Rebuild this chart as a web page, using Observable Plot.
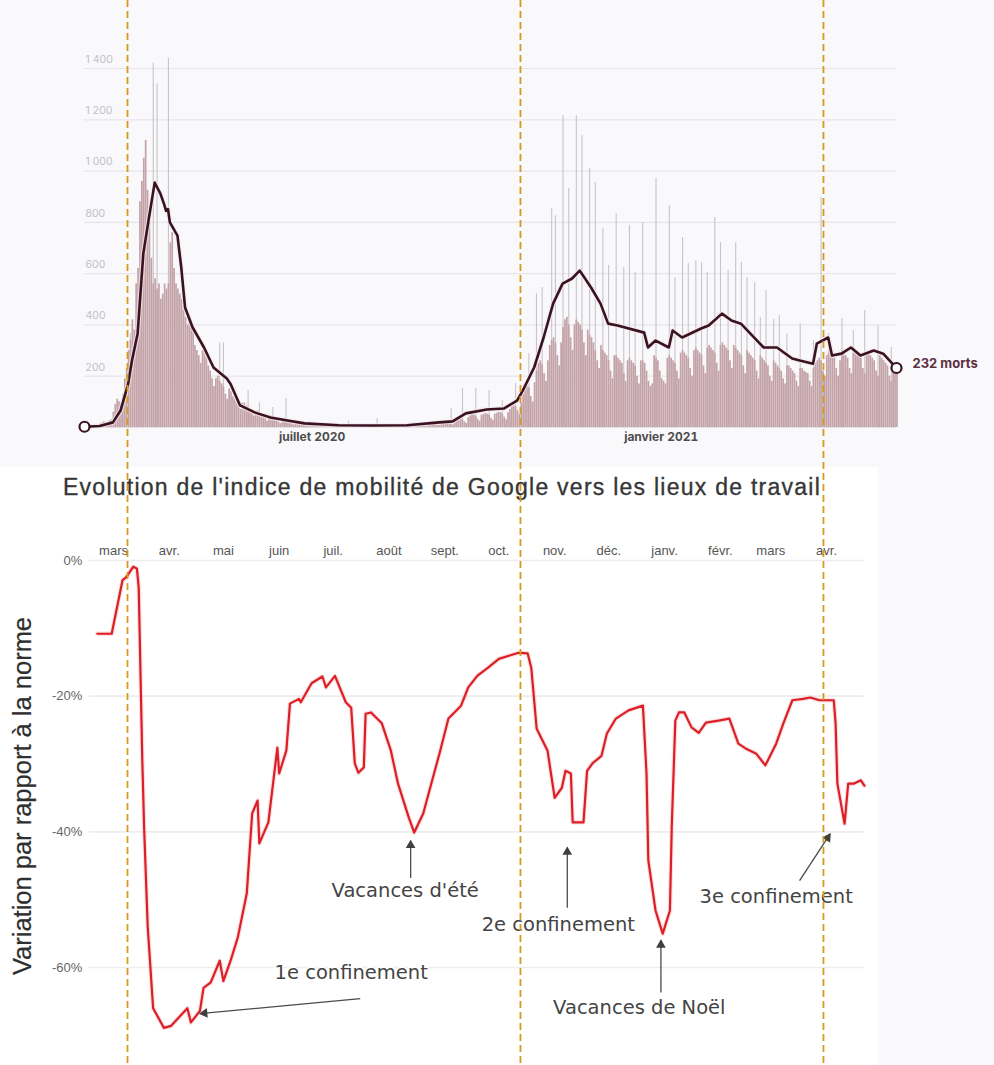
<!DOCTYPE html>
<html><head><meta charset="utf-8">
<script src="https://cdn.jsdelivr.net/npm/d3@7"></script>
<script src="https://cdn.jsdelivr.net/npm/@observablehq/plot@0.6"></script>
<style>
body{margin:0;background:#f8f7fa;}
#wrap{position:relative;width:994px;height:1065px;overflow:hidden;background:#f9f8fa;}
#top{position:absolute;left:0;top:0;}
#bottomBg{position:absolute;left:0;top:467px;width:878px;height:598px;background:#fff;}
#bottom{position:absolute;left:0;top:465px;}
#overlay{position:absolute;left:0;top:0;pointer-events:none;}
#title{position:absolute;left:63px;top:474px;font:23px "Liberation Sans",Arial,sans-serif;letter-spacing:1.25px;color:#363636;-webkit-text-stroke:0.35px #363636;white-space:nowrap;}
#ytitle{position:absolute;left:-177px;top:781px;width:400px;height:30px;line-height:30px;text-align:center;transform:rotate(-90deg);font:25.5px "Liberation Sans",Arial,sans-serif;color:#2f2f2f;-webkit-text-stroke:0.2px #2f2f2f;white-space:nowrap;}
</style></head>
<body>
<div id="wrap">
  <div id="top"></div>
  <div id="bottomBg"></div>
  <div id="bottom"></div>
  <div id="title">Evolution de l'indice de mobilité de Google vers les lieux de travail</div>
  <div id="ytitle">Variation par rapport à la norme</div>
  <div id="overlay"></div>
</div>
<script>
// ---------- DATA: top chart (daily deaths) ----------
const startDate = "2020-03-03";
const hospitalDeaths = [
  2,3,2,3,5,2,4,
  10,14,18,22,16,12,26,
  30,60,90,110,100,95,130,
  190,230,300,340,420,380,560,
  620,880,960,1050,1120,925,800,
  660,560,580,540,560,500,520,
  560,540,560,720,760,620,560,
  540,520,500,460,430,400,420,
  410,380,320,300,280,250,300,
  300,270,240,220,190,160,190,
  200,180,170,160,130,110,150,
  140,120,110,100,85,70,95,
  95,85,80,70,60,45,60,
  65,55,50,45,35,25,45,
  45,40,35,30,22,15,32,
  32,30,26,22,15,10,24,
  24,22,18,15,10,8,16,
  16,15,13,11,8,6,12,
  12,12,10,9,6,5,10,
  11,10,9,8,5,4,9,
  10,9,9,7,5,4,8,
  9,9,8,7,5,4,8,
  9,8,8,6,5,4,9,
  10,9,8,7,5,4,9,
  10,10,9,8,6,5,11,
  12,12,11,9,7,6,13,
  15,15,14,11,9,7,16,
  20,22,20,16,12,10,24,
  32,36,34,30,22,16,38,
  45,50,48,42,32,24,48,
  50,55,52,48,36,28,52,
  55,60,58,52,40,30,58,
  70,80,85,80,65,50,95,
  130,150,160,155,120,100,175,
  220,250,260,245,210,180,260,
  320,340,350,330,280,240,330,
  390,420,430,400,350,300,400,
  420,410,400,380,330,280,380,
  360,350,330,300,260,230,320,
  300,290,280,260,220,190,280,
  280,270,260,250,210,180,260,
  270,260,250,240,200,170,260,
  260,250,220,180,160,170,280,
  270,260,220,190,180,170,270,
  280,270,260,250,220,190,290,
  300,290,280,270,230,200,300,
  310,300,290,280,240,210,310,
  320,310,300,290,250,220,320,
  330,320,310,300,260,230,320,
  310,300,290,280,240,210,300,
  290,280,270,260,220,190,280,
  270,260,250,240,200,180,260,
  250,240,230,220,190,170,240,
  240,230,220,210,180,160,230,
  230,220,215,210,180,160,230,
  250,260,270,260,220,200,280,
  290,300,290,270,230,200,260,
  300,290,280,270,230,210,290,
  300,290,280,270,230,210,290,
  290,280,270,260,220,200,280,
  270,260,250,240,200,180,250,
  240,230
];
const spikeDates = ["2020-03-27","2020-04-08","2020-04-10","2020-04-16","2020-05-06","2020-05-13","2020-05-15",
  "2020-05-28","2020-06-03","2020-06-10","2020-06-17","2020-07-20","2020-08-04","2020-09-12","2020-09-18",
  "2020-09-25","2020-10-02","2020-10-09","2020-10-16","2020-10-23","2020-10-27","2020-10-30","2020-11-04",
  "2020-11-06","2020-11-10","2020-11-13","2020-11-17","2020-11-20","2020-11-24","2020-11-27","2020-12-01",
  "2020-12-04","2020-12-08","2020-12-12","2020-12-15","2020-12-18","2020-12-22","2020-12-29","2021-01-05",
  "2021-01-08","2021-01-12","2021-01-15","2021-01-19","2021-01-22","2021-01-25","2021-01-29","2021-02-01",
  "2021-02-05","2021-02-09","2021-02-12","2021-02-15","2021-02-19","2021-02-22","2021-02-25","2021-03-01",
  "2021-03-04","2021-03-08","2021-03-15","2021-03-22","2021-03-26","2021-03-30","2021-04-06","2021-04-12",
  "2021-04-18","2021-04-25","2021-05-02"];
const spikeTotals = [366,1420,1340,1440,300,330,330,
  144,97,78,113,25,35,74,152,
  152,144,105,171,288,522,546,854,
  826,1216,932,1216,1138,1010,955,776,
  632,834,624,788,604,799,971,865,
  585,741,639,651,643,604,819,721,
  612,721,643,585,565,429,534,421,
  437,365,405,339,897,366,425,378,
  456,398,312];
const avgDates = ["2020-03-03","2020-03-11","2020-03-18","2020-03-22","2020-03-26","2020-03-28","2020-03-31",
  "2020-04-03","2020-04-06","2020-04-09","2020-04-12","2020-04-14","2020-04-15","2020-04-16","2020-04-17",
  "2020-04-21","2020-04-23","2020-04-25","2020-04-29","2020-05-05","2020-05-10","2020-05-17","2020-05-19",
  "2020-05-24","2020-06-01","2020-06-09","2020-06-18","2020-06-27","2020-07-15","2020-08-01","2020-08-20",
  "2020-09-06","2020-09-13","2020-09-20","2020-10-01","2020-10-10","2020-10-17","2020-10-20","2020-10-26",
  "2020-10-31","2020-11-05","2020-11-10","2020-11-15","2020-11-19","2020-11-25","2020-11-30","2020-12-04",
  "2020-12-09","2020-12-23","2020-12-25","2020-12-29","2021-01-05","2021-01-07","2021-01-12","2021-01-22",
  "2021-01-26","2021-02-02","2021-02-07","2021-02-12","2021-02-17","2021-02-24","2021-03-03","2021-03-11",
  "2021-03-15","2021-03-22","2021-03-24","2021-03-30","2021-04-01","2021-04-06","2021-04-11","2021-04-16",
  "2021-04-23","2021-04-28","2021-05-05"];
const avgValues = [3,6,20,66,170,260,366,
  678,819,955,912,870,845,852,800,
  748,624,468,390,312,234,191,170,
  86,58,39,27,16,9,8,9,
  20,24,55,70,74,105,144,234,
  351,483,561,581,612,546,483,405,
  398,370,312,339,312,378,351,386,
  398,444,417,405,366,312,312,269,
  261,249,327,351,281,288,312,281,
  300,288,232];
const topTicks = [200,400,600,800,1000,1200,1400];
const topTickLabels = ["200","400","600","800","1 000","1 200","1 400"];
const topXTickDates = ["2020-07-01","2021-01-01"];
const topXTickLabels = ["juillet 2020","janvier 2021"];
const topDomain = ["2020-03-03","2021-05-05"];

// ---------- DATA: bottom chart (Google mobility, workplaces) ----------
const mobDates = ["2020-02-21","2020-02-29","2020-03-06","2020-03-08","2020-03-12","2020-03-14","2020-03-15","2020-03-17","2020-03-18","2020-03-20","2020-03-23","2020-03-29","2020-04-02","2020-04-11","2020-04-13","2020-04-18","2020-04-20","2020-04-24","2020-04-29","2020-05-01","2020-05-05","2020-05-09","2020-05-14","2020-05-17","2020-05-20","2020-05-21","2020-05-26","2020-05-31","2020-06-01","2020-06-05","2020-06-07","2020-06-12","2020-06-13","2020-06-19","2020-06-25","2020-06-27","2020-07-02","2020-07-08","2020-07-11","2020-07-13","2020-07-15","2020-07-18","2020-07-19","2020-07-22","2020-07-28","2020-08-02","2020-08-06","2020-08-12","2020-08-15","2020-08-20","2020-08-26","2020-08-29","2020-09-03","2020-09-10","2020-09-14","2020-09-19","2020-09-25","2020-10-01","2020-10-07","2020-10-12","2020-10-17","2020-10-19","2020-10-22","2020-10-28","2020-11-01","2020-11-05","2020-11-07","2020-11-10","2020-11-11","2020-11-17","2020-11-19","2020-11-22","2020-11-27","2020-11-30","2020-12-05","2020-12-12","2020-12-20","2020-12-22","2020-12-23","2020-12-27","2020-12-31","2021-01-04","2021-01-05","2021-01-07","2021-01-09","2021-01-12","2021-01-16","2021-01-20","2021-01-24","2021-01-31","2021-02-06","2021-02-11","2021-02-15","2021-02-21","2021-02-26","2021-03-04","2021-03-08","2021-03-13","2021-03-19","2021-03-23","2021-03-28","2021-04-05","2021-04-06","2021-04-07","2021-04-11","2021-04-13","2021-04-16","2021-04-20","2021-04-22"];
const mobValues = [-10.8,-10.8,-2.9,-2.5,-0.9,-1.2,-4,-29.5,-39.4,-54,-66,-68.9,-68.6,-66,-68.1,-66.4,-63,-62.2,-59,-62,-59,-55.6,-49.1,-37.3,-35.4,-41.7,-38.6,-27.6,-31.4,-28,-21.1,-20.4,-20.9,-18.1,-17.1,-18.7,-17,-20.9,-21.7,-29.9,-31.3,-30.5,-22.6,-22.4,-24,-28,-32.9,-37.9,-40.1,-37.3,-31.4,-28.5,-23.3,-21.4,-18.7,-17,-15.8,-14.5,-14,-13.6,-13.7,-15.8,-24.8,-28,-35,-33.5,-31,-31.4,-38.6,-38.6,-31,-29.9,-28.8,-25.5,-23.3,-22.1,-21.4,-31.4,-44.2,-51.6,-55,-51.6,-39.4,-23.6,-22.4,-22.4,-24.6,-25.4,-23.9,-23.6,-23.3,-27,-27.7,-28.5,-30.2,-27,-24,-20.6,-20.4,-20.2,-20.6,-20.6,-24,-32.9,-38.8,-32.9,-32.9,-32.4,-33.2];
const monthDates = ["2020-03-01","2020-04-01","2020-05-01","2020-06-01","2020-07-01","2020-08-01","2020-09-01","2020-10-01","2020-11-01","2020-12-01","2021-01-01","2021-02-01","2021-03-01","2021-04-01"];
const monthLabels = ["mars","avr.","mai","juin","juil.","août","sept.","oct.","nov.","déc.","janv.","févr.","mars","avr."];
const bottomTicks = [0,-20,-40,-60];
const bottomDomain = ["2020-02-21","2021-04-22"];

// annotations (bottom chart)
const annoLabels = ["1e confinement","Vacances d'été","2e confinement","Vacances de Noël","3e confinement"];
const annoTextDates = ["2020-07-11","2020-08-10","2020-11-03","2020-12-18","2021-03-04"];
const annoTextValues = [-60.8,-48.7,-53.7,-65.9,-49.6];
const arrowFromDates = ["2020-07-16","2020-08-13","2020-11-08","2020-12-30","2021-03-17"];
const arrowFromValues = [-64.6,-46.8,-51.2,-63.7,-47.2];
const arrowToDates = ["2020-04-18","2020-08-13","2020-11-08","2020-12-30","2021-04-03"];
const arrowToValues = [-66.8,-41.3,-42.3,-56,-40.3];
const arrowHeadAngles = [-95.4,0,0,0,33.4];

// lockdown markers (dashed overlay)
const lockdownMarks = ["2020-03-25T16:00Z","2020-10-18T19:00Z","2021-03-27T12:00Z"];

// ---------- BUILD ----------
const parse = d3.utcParse("%Y-%m-%d");
const start = parse(startDate);
const hosp = hospitalDeaths.map((v, i) => ({date: d3.utcDay.offset(start, i), value: v}));
const spikes = spikeDates.map((d, i) => ({date: parse(d), value: spikeTotals[i]}));
const avg = avgDates.map((d, i) => ({date: parse(d), value: avgValues[i]}));
const topTickMap = new Map(topXTickDates.map((d, i) => [+parse(d), topXTickLabels[i]]));

const topPlot = Plot.plot({
  width: 994, height: 465,
  marginLeft: 84, marginRight: 98, marginTop: 68, marginBottom: 38,
  style: {background: "transparent", fontFamily: "Inter, sans-serif", overflow: "visible"},
  x: {type: "utc", domain: topDomain.map(parse), label: null},
  y: {domain: [0, 1400], axis: null, label: null},
  marks: [
    Plot.ruleY(topTicks, {stroke: "#e8e5ea", strokeWidth: 1.2}),
    Plot.text(topTicks, {y: d => d, text: (d, i) => topTickLabels[i], frameAnchor: "left", textAnchor: "start", dx: 1, dy: -9, fill: "#c4bfc5", fontSize: 10.5}),
    Plot.ruleY([0], {stroke: "#e2dfe4", strokeWidth: 1.2}),
    Plot.rectY(spikes, {x1: "date", x2: d => d3.utcDay.offset(d.date, 1), y: "value", fill: "#c9c4c8", insetLeft: 0.4, insetRight: 0.4}),
    Plot.rectY(hosp, {x1: "date", x2: d => d3.utcDay.offset(d.date, 1), y: "value", fill: "#c3a2a8", insetLeft: 0.1, insetRight: 0.1}),
    Plot.line(avg, {x: "date", y: "value", stroke: "#f3e9ec", strokeWidth: 5, strokeOpacity: 0.7}),
    Plot.line(avg, {x: "date", y: "value", stroke: "#3a1221", strokeWidth: 2.6}),
    Plot.dot([avg[0], avg[avg.length - 1]], {x: "date", y: "value", r: 5, fill: "#fff", stroke: "#3a1221", strokeWidth: 2.2}),
    Plot.text([avg[avg.length - 1]], {x: "date", y: "value", text: d => `${d.value} morts`, dx: 16, dy: -4, textAnchor: "start", fontWeight: "bold", fill: "#5c3040", fontSize: 13}),
    Plot.axisX({ticks: topXTickDates.map(parse), tickFormat: d => topTickMap.get(+d), tickSize: 0, tickPadding: 5, fontSize: 12, fontWeight: "bold", fill: "#4d4d4d"})
  ]
});
document.getElementById("top").append(topPlot);

const mob = mobDates.map((d, i) => ({date: parse(d), value: mobValues[i]}));
const monthMap = new Map(monthDates.map((d, i) => [+parse(d), monthLabels[i]]));
const annoMarks = [];
annoLabels.forEach((lab, i) => {
  const a = {
    x1: parse(arrowFromDates[i]), y1: arrowFromValues[i],
    x2: parse(arrowToDates[i]), y2: arrowToValues[i],
    tx: parse(annoTextDates[i]), ty: annoTextValues[i], label: lab, rot: arrowHeadAngles[i]
  };
  const th = a.rot * Math.PI / 180;
  annoMarks.push(
    Plot.link([a], {x1: "x1", y1: "y1", x2: "x2", y2: "y2", stroke: "#4a4a4a", strokeWidth: 1.3}),
    Plot.dot([a], {x: "x2", y: "y2", symbol: "triangle", r: 3.6, fill: "#3f3f3f", stroke: "none", rotate: a.rot, dx: -4.6 * Math.sin(th), dy: 4.6 * Math.cos(th)}),
    Plot.text([a], {x: "tx", y: "ty", text: "label", fontFamily: "DejaVu Sans, sans-serif", fontSize: 19.5, fill: "#444", stroke: "#fff", strokeWidth: 3})
  );
});

const bottomPlot = Plot.plot({
  width: 878, height: 600,
  marginLeft: 96.8, marginRight: 14.1, marginTop: 95, marginBottom: 98,
  style: {background: "transparent", fontFamily: "'Liberation Sans', Arial, sans-serif", overflow: "visible"},
  x: {type: "utc", domain: bottomDomain.map(parse), label: null},
  y: {domain: [-60, 0], label: null},
  marks: [
    Plot.ruleY(bottomTicks, {stroke: "#ededed", strokeWidth: 1.6, insetLeft: -8}),
    Plot.axisX({anchor: "top", ticks: monthDates.map(parse), tickFormat: d => monthMap.get(+d), tickSize: 0, tickPadding: 6, fontSize: 13, fill: "#555"}),
    Plot.axisY({ticks: bottomTicks, tickFormat: d => d + "%", tickSize: 0, tickPadding: 15, fontSize: 13, fill: "#666"}),
    Plot.line(mob, {x: "date", y: "value", stroke: "#f6c9cb", strokeWidth: 4.5, strokeOpacity: 0.6}),
    Plot.line(mob, {x: "date", y: "value", stroke: "#dc1f26", strokeWidth: 2.2}),
    ...annoMarks
  ]
});
document.getElementById("bottom").append(bottomPlot);

const overlay = Plot.plot({
  width: 994, height: 1065,
  marginLeft: 84, marginRight: 98, marginTop: 0, marginBottom: 0,
  style: {background: "transparent", overflow: "visible"},
  x: {type: "utc", domain: topDomain.map(parse), axis: null, label: null},
  marks: [
    Plot.ruleX(lockdownMarks.map(d => d3.isoParse(d)), {stroke: "#d99a1c", strokeWidth: 1.8, strokeDasharray: "7,4"})
  ]
});
document.getElementById("overlay").append(overlay);
</script>
</body></html>
